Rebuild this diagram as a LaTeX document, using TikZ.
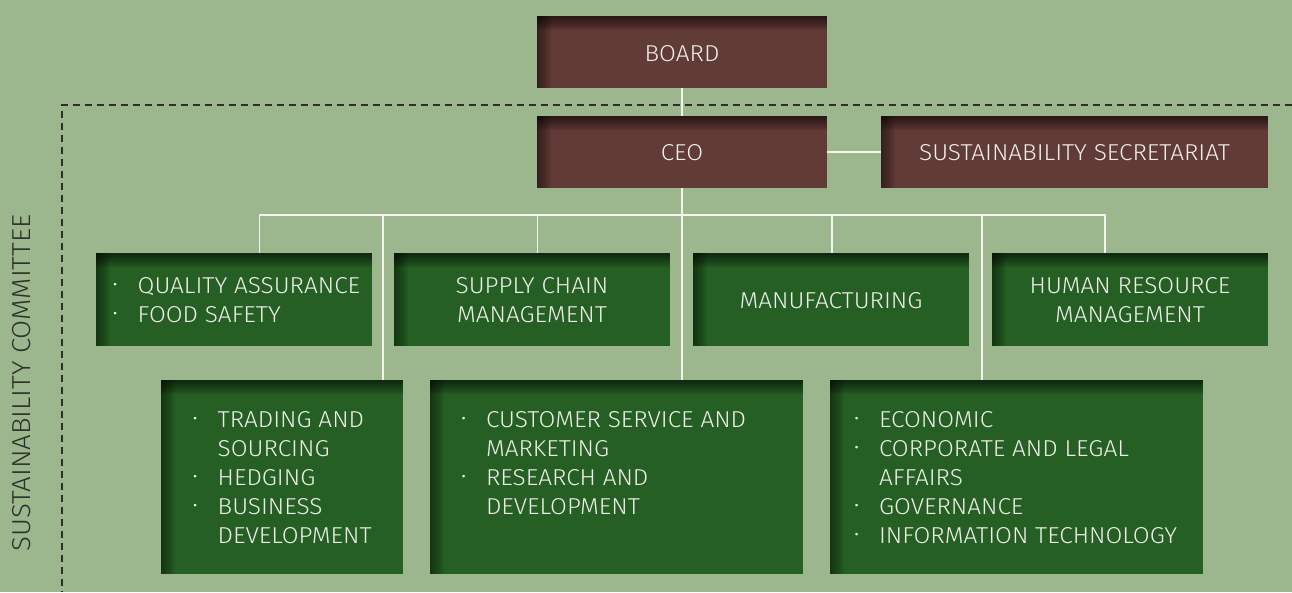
\documentclass[tikz,border=0pt]{standalone}
\usepackage{fontspec}
\setmainfont{Fira Sans}[UprightFont=* Light, FakeStretch=1.06]
\usetikzlibrary{calc}
\definecolor{bgc}{HTML}{9CB68E}
\definecolor{brownc}{HTML}{613B36}
\definecolor{greenc}{HTML}{255F24}
\definecolor{txt}{HTML}{EFEFEA}
\definecolor{linec}{HTML}{F4F4EF}
\definecolor{dashc}{HTML}{2E2E2E}
\definecolor{comc}{HTML}{2C312A}
\newcommand\bulitem{\makebox[25pt][l]{\raisebox{2.6pt}{\fontsize{17}{17}\selectfont\textbullet}}}
\tikzset{
  shadowed/.style={rectangle, anchor=north west, inner sep=0pt, outer sep=0pt, draw=none, fill=#1,
    path picture={
      \foreach \i in {1,...,7}{
        \fill[black, opacity=0.1] (path picture bounding box.north west) rectangle ([yshift={-2pt*\i}]path picture bounding box.north east);
        \fill[black, opacity=0.07] (path picture bounding box.north west) rectangle ([xshift={2pt*\i}]path picture bounding box.south west);
      }
    }},
  brownbox/.style={shadowed=brownc},
  greenbox/.style={shadowed=greenc},
  lbl/.style={inner sep=0pt, outer sep=0pt, text=txt, font=\fontsize{23}{29}\selectfont},
  listlbl/.style={lbl, anchor=base west},
  link/.style={draw=linec, line width=1.5pt},
  dashline/.style={draw=dashc, line width=1.3pt, dash pattern=on 7pt off 5pt},
}
\begin{document}
\begin{tikzpicture}[x=1pt, y=-1pt]
\useasboundingbox (0,0) rectangle (1292,592);
\fill[bgc] (0,0) rectangle (1292,592);

% dashed committee frame
\coordinate (dA) at (1292,105);
\coordinate (dB) at (62,105);
\coordinate (dC) at (62,592);
\draw[dashline] (dA) -- (dB) -- (dC);
\node[inner sep=0pt, text=comc, font=\fontsize{26}{30}\selectfont, rotate=90] (comm) at (22,383) {SUSTAINABILITY COMMITTEE};

% boxes
\node[brownbox, minimum width=290pt, minimum height=72pt] (board) at (537,16) {};
\node[brownbox, minimum width=290pt, minimum height=72pt] (ceo) at (537,116) {};
\node[brownbox, minimum width=387pt, minimum height=72pt] (sec) at (881,116) {};

\node[greenbox, minimum width=276pt, minimum height=93pt] (qa) at (96,253) {};
\node[greenbox, minimum width=276pt, minimum height=93pt] (scm) at (394,253) {};
\node[greenbox, minimum width=276pt, minimum height=93pt] (mfg) at (693,253) {};
\node[greenbox, minimum width=276pt, minimum height=93pt] (hrm) at (992,253) {};

\node[greenbox, minimum width=242pt, minimum height=194pt] (trd) at (161,380) {};
\node[greenbox, minimum width=373pt, minimum height=194pt] (cs) at (430,380) {};
\node[greenbox, minimum width=373pt, minimum height=194pt] (eco) at (830,380) {};

% connectors
\coordinate (bus) at (682,215);
\draw[link] (board.south) -- (ceo.north);
\draw[link] (ceo.east) -- (sec.west);
\draw[link] (ceo.south) -- (bus);
\draw[link] (bus) -| ([xshift=25.5pt]qa.north);
\draw[link] (bus) -| ([xshift=101pt]trd.north);
\draw[link] (bus) -| ([xshift=5.5pt]scm.north);
\draw[link] (bus) -| ([xshift=65.5pt]cs.north);
\draw[link] (bus) -| ([xshift=1pt]mfg.north);
\draw[link] (bus) -| ([xshift=-34.5pt]eco.north);
\draw[link] (bus) -| ([xshift=-25pt]hrm.north);

% texts
\node[lbl] (boardT) at ([yshift=-1.5pt]board.center) {BOARD};
\node[lbl] (ceoT) at ([yshift=-1pt]ceo.center) {CEO};
\node[lbl] (secT) at ([yshift=-1pt]sec.center) {SUSTAINABILITY SECRETARIAT};
\node[lbl, align=center] (scmT) at ([yshift=-0.5pt]scm.center) {SUPPLY CHAIN\\MANAGEMENT};
\node[lbl] (mfgT) at ([yshift=-1pt]mfg.center) {MANUFACTURING};
\node[lbl, align=center] (hrmT) at ([yshift=-0.5pt]hrm.center) {HUMAN RESOURCE\\MANAGEMENT};

\node[listlbl] (qaT) at (112.7,293) {\begin{tabular}[t]{@{}l@{}l@{}}
\bulitem & QUALITY ASSURANCE\\
\bulitem & FOOD SAFETY
\end{tabular}};
\node[listlbl] (trdT) at (192.7,427.5) {\begin{tabular}[t]{@{}l@{}l@{}}
\bulitem & TRADING AND\\
 & SOURCING\\
\bulitem & HEDGING\\
\bulitem & BUSINESS\\
 & DEVELOPMENT
\end{tabular}};
\node[listlbl] (csT) at (461,427.5) {\begin{tabular}[t]{@{}l@{}l@{}}
\bulitem & CUSTOMER SERVICE AND\\
 & MARKETING\\
\bulitem & RESEARCH AND\\
 & DEVELOPMENT
\end{tabular}};
\node[listlbl] (ecoT) at (854,427.5) {\begin{tabular}[t]{@{}l@{}l@{}}
\bulitem & ECONOMIC\\
\bulitem & CORPORATE AND LEGAL\\
 & AFFAIRS\\
\bulitem & GOVERNANCE\\
\bulitem & INFORMATION TECHNOLOGY
\end{tabular}};
\end{tikzpicture}
\end{document}
